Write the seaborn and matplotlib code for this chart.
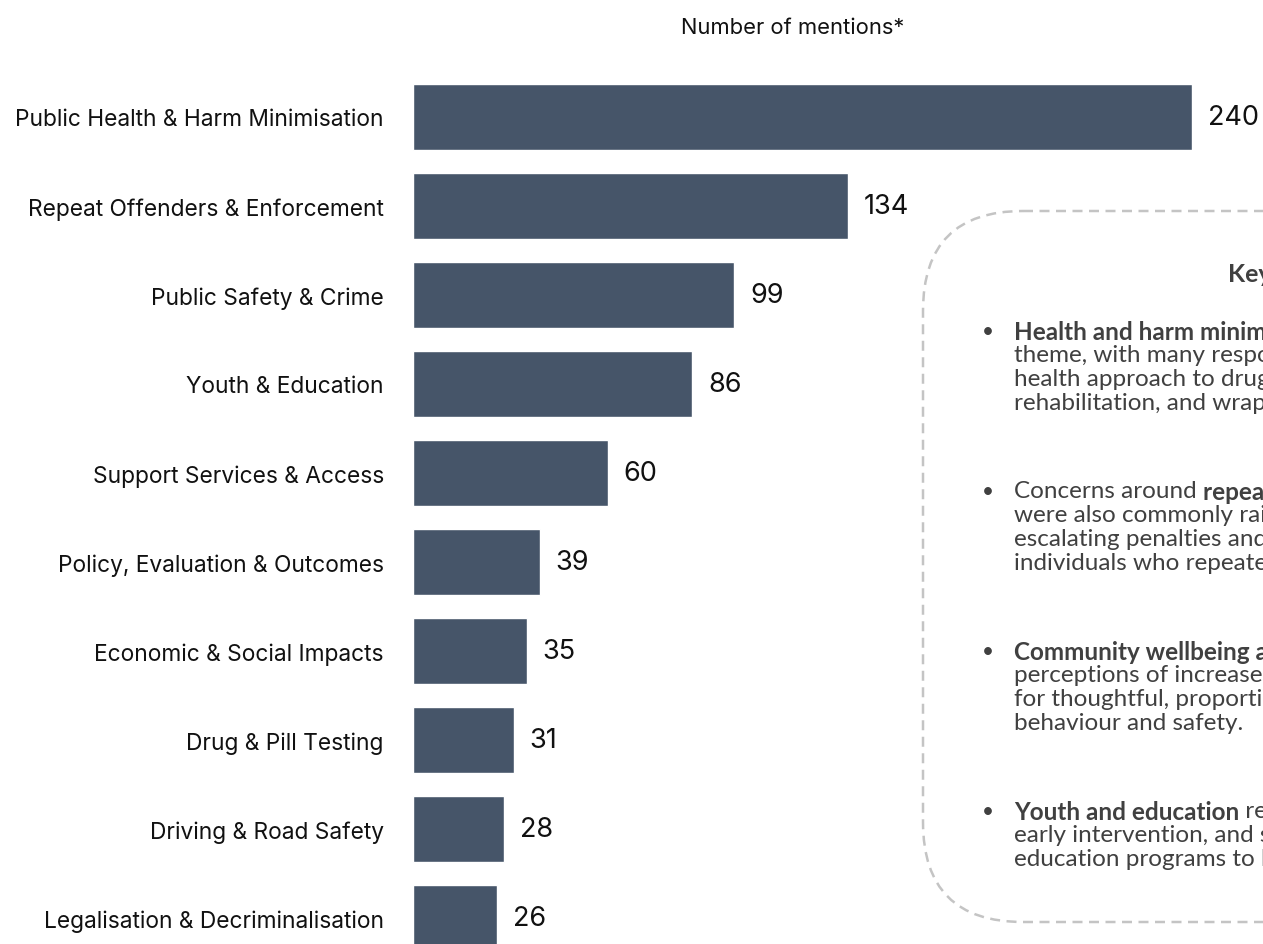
import numpy as np
import pandas as pd
import matplotlib
matplotlib.use("Agg")
import matplotlib.pyplot as plt
import seaborn as sns
from matplotlib.patches import FancyBboxPatch

# data
themes = [
    "Public Health & Harm Minimisation",
    "Repeat Offenders & Enforcement",
    "Public Safety & Crime",
    "Youth & Education",
    "Support Services & Access",
    "Policy, Evaluation & Outcomes",
    "Economic & Social Impacts",
    "Drug & Pill Testing",
    "Driving & Road Safety",
    "Legalisation & Decriminalisation",
]
mentions = [240, 134, 99, 86, 60, 39, 35, 31, 28, 26]

title = "Number of mentions*"
box_heading = "Key themes"
# each bullet: list of lines, each line a list of (text, is_bold)
bullets = [
    [[("Health and harm minimisation", True), (" was the most frequently raised", False)],
     [("theme, with many respondents supporting a public", False)],
     [("health approach to drug use, including treatment,", False)],
     [("rehabilitation, and wraparound support services.", False)]],
    [[("Concerns around ", False), ("repeat offenders and enforcement", True)],
     [("were also commonly raised, with calls for", False)],
     [("escalating penalties and firmer consequences for", False)],
     [("individuals who repeatedly offend.", False)]],
    [[("Community wellbeing and safety", True), (" concerns reflected", False)],
     [("perceptions of increased crime, alongside calls", False)],
     [("for thoughtful, proportionate responses to public", False)],
     [("behaviour and safety.", False)]],
    [[("Youth and education", True), (" responses emphasised prevention,", False)],
     [("early intervention, and school-based drug and alcohol", False)],
     [("education programs to build awareness.", False)]],
]

df = pd.DataFrame({"theme": themes, "mentions": mentions})

sns.set_theme(style="white")
plt.rcParams["font.family"] = ["Inter", "DejaVu Sans"]

W, H = 1263, 945
fig = plt.figure(figsize=(W / 100, H / 100), dpi=100)
fig.patch.set_facecolor("white")

bar_color = "#465569"
label_font = "Inter"
body_font = "Lato"

# bar axes: x from 413 px to 1192 px, rows 89 px apart starting at 117.8 px
ax = fig.add_axes([413 / W, 0, (1192 - 413) / W, (945 - 85) / H])
sns.barplot(data=df, x="mentions", y="theme", orient="h", color=bar_color,
            width=0.74, saturation=1, ax=ax)
ax.set_xlim(0, 240)
ax.set_ylim(9.294, -0.3685)
ax.set_xlabel("")
ax.set_ylabel("")
ax.set_xticks([])
ax.tick_params(axis="y", length=0, pad=21, labelsize=16.4, labelcolor="#111111")
for lab in ax.get_yticklabels():
    lab.set_fontfamily(label_font)
sns.despine(ax=ax, left=True, bottom=True)
ax.patch.set_alpha(0)

for i, v in enumerate(mentions):
    ax.annotate(str(v), xy=(v, i), xytext=(11.5, 0), textcoords="offset points",
                ha="left", va="center", fontsize=19.5, color="#111111",
                family=label_font, annotation_clip=False)

# overlay axes in pixel coordinates for title and the notes box
ov = fig.add_axes([0, 0, 1, 1], zorder=-1)
ov.set_xlim(0, W)
ov.set_ylim(H, 0)
ov.axis("off")

ov.text(793, 28, title, ha="center", va="center", fontsize=15.8, color="#111111",
        family=label_font)

box = FancyBboxPatch((923, 212), 800, 711,
                     boxstyle="round,pad=0,rounding_size=100",
                     fill=False, edgecolor="#c4c4c4", linewidth=1.8,
                     linestyle=(0, (4, 2.6)))
ov.add_patch(box)

text_color = "#404040"
ov.text(1228, 274, box_heading, ha="left", va="center", fontsize=18,
        fontweight="bold", color=text_color, family=body_font)

fig.canvas.draw()
renderer = fig.canvas.get_renderer()

pitch = 24
para_step = 88
y = 332
for para in bullets:
    ov.text(982, y, "\u2022", ha="left", va="center", fontsize=15,
            color=text_color, family=body_font)
    for line in para:
        x = 1014
        for txt, bold in line:
            t = ov.text(x, y, txt, ha="left", va="center", fontsize=17.5,
                        fontweight="bold" if bold else "normal",
                        color=text_color, family=body_font)
            x += t.get_window_extent(renderer).width
        y += pitch
    y += para_step - pitch

fig.savefig("out.png", dpi=100, facecolor="white")
